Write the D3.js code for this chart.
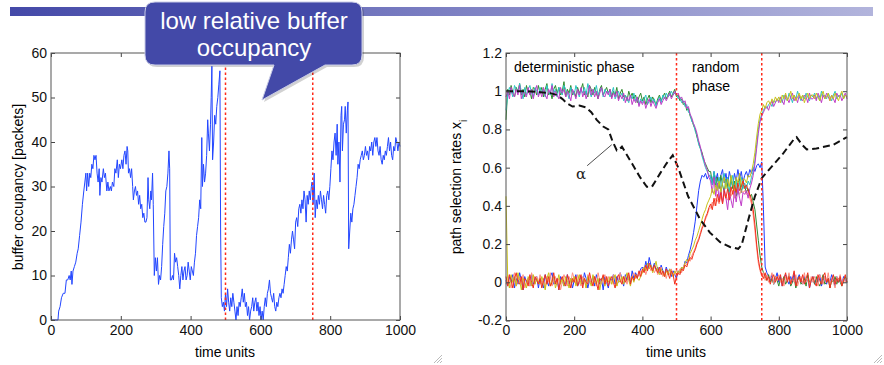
<!DOCTYPE html>
<html>
<head>
<meta charset="utf-8">
<script src="https://cdn.jsdelivr.net/npm/d3@7"></script>
<style>
  html, body { margin: 0; padding: 0; background: #fff; }
  svg { display: block; font-family: "Liberation Sans", Arial, Helvetica, sans-serif; }
</style>
</head>
<body>
<svg id="chart" width="884" height="365"></svg>
<script>
// ---------- data ----------
const xTicks = [0, 200, 400, 600, 800, 1000];
const bufferTicks = [0, 10, 20, 30, 40, 50, 60];
const rateTicks = [-0.2, 0, 0.2, 0.4, 0.6, 0.8, 1, 1.2];
const phaseBounds = [500, 750];

// buffer occupancy [packets] (left panel)
const bufferTime = [0,20,22,26,30,35,40,44,48,52,55,58,60,63,67,71,75,78,82,86,90,94,97,100,102,105,108,111,114,117,120,123,126,129,132,135,138,140,143,146,150,153,156,160,163,166,170,173,176,180,183,186,190,193,196,199,203,206,209,212,215,218,220,222,225,228,231,234,236,239,242,245,248,251,254,257,260,263,266,269,272,275,278,280,283,286,288,291,293,296,299,302,305,308,311,314,317,320,323,326,329,332,335,338,340,342,345,348,351,354,357,360,363,366,369,372,375,378,381,384,387,390,393,396,399,402,405,408,411,414,417,420,423,426,429,432,434,437,440,443,446,449,451,454,457,459,461,463,466,469,472,475,478,481,484,486,488,491,494,497,500,503,506,509,512,515,518,521,524,527,530,533,536,539,542,545,548,551,554,557,560,563,566,569,572,575,578,581,584,587,590,593,596,599,602,605,608,611,614,617,620,623,626,629,632,635,638,641,644,647,650,653,656,659,662,665,668,671,674,677,680,683,686,689,692,695,698,701,704,707,710,713,716,719,722,725,728,731,734,737,740,743,746,748,751,754,757,760,763,766,769,772,775,778,781,784,787,790,793,796,799,802,805,808,811,814,817,820,822,825,828,831,833,835,838,841,843,846,849,851,853,856,859,862,865,868,871,874,877,880,883,886,889,892,895,898,901,904,907,910,913,916,919,922,925,928,931,934,937,940,943,946,949,952,955,958,961,964,967,970,973,976,979,982,985,988,991,994,997,1000];
const bufferValue = [0,0,2,3,5,6,6,9,9,10,9,11,8,11,12,13,15,16,19,22,26,29,31,33,29,33,30,33,32,35,34,37,36,37,33,31,34,28,32,31,34,32,33,29,31,29,30,29,31,30,34,33,36,32,35,34,36,34,37,38,35,39,38,33,34,32,34,30,27,29,30,28,29,26,28,25,26,23,24,22,22,23,32,27,25,29,27,33,26,10,14,11,14,8,10,9,12,17,21,24,29,30,33,38,34,9,9,10,9,15,13,14,12,10,7,10,12,9,11,12,9,10,13,11,9,12,11,10,13,15,19,21,23,27,25,41,30,35,31,33,37,45,42,38,44,50,57,36,40,46,44,48,50,53,56,20,5,3,4,2,6,3,7,4,2,5,3,6,4,2,0,3,1,4,3,5,7,4,6,3,4,1,3,0,2,3,5,2,4,5,2,4,1,3,0,2,0,3,5,3,6,7,9,6,5,4,6,3,2,4,3,5,6,5,7,6,8,10,12,11,14,17,15,18,20,18,16,22,23,21,25,26,24,27,25,29,27,22,28,26,29,27,30,31,26,33,23,27,25,28,26,29,27,25,28,26,24,28,29,27,30,34,38,36,40,42,37,44,35,40,31,46,48,38,44,45,48,42,47,49,16,20,24,22,25,26,28,30,32,35,34,36,37,38,36,37,39,37,38,36,39,38,40,37,40,41,39,41,38,37,39,36,35,37,36,38,37,39,41,38,40,37,36,39,38,41,40,38,40,39];

// mixing parameter alpha (dashed curve, right panel)
const alphaTime = [0,60,100,130,150,165,180,195,215,235,250,266,285,300,312,325,332,340,355,370,393,413,428,452,470,489,505,534,569,598,628,657,681,691,711,730,750,784,813,847,852,868,882,910,960,1000];
const alphaValue = [1.0,1.0,0.995,0.99,0.98,0.96,0.935,0.92,0.925,0.915,0.89,0.85,0.815,0.8,0.74,0.69,0.695,0.71,0.665,0.62,0.55,0.5,0.5,0.57,0.62,0.665,0.6,0.45,0.33,0.26,0.21,0.185,0.175,0.195,0.33,0.45,0.545,0.615,0.675,0.755,0.76,0.72,0.695,0.7,0.72,0.76];

// path selection rates x_i, one sample every 5 time units, in percent
const sampleStep = 5;
const rateBlue = [1,-2,3,0,4,-3,2,-1,5,1,-4,3,0,2,-2,4,-1,1,3,-3,
2,0,-3,4,1,-2,3,5,-1,0,2,-4,3,1,-2,0,4,-1,2,-3,
1,4,-2,0,3,-1,5,2,-3,1,0,3,-2,4,1,-1,2,-4,3,0,
-3,2,1,4,-1,3,0,5,2,-2,4,1,3,0,6,2,5,3,4,7,
8,6,11,7,13,9,7,10,6,8,5,9,6,4,8,5,7,3,6,4,
2,6,5,8,7,11,10,14,17,21,26,32,40,48,53,56,55,57,54,56,
55,51,58,53,57,50,56,59,52,57,51,58,54,50,57,53,59,54,58,52,
56,58,55,59,57,60,58,61,62,60,63,38,8,5,3,1,4,-1,2,5,
0,3,-2,2,4,1,-1,3,0,5,-2,2,4,1,-1,3,0,2,-3,1,
3,-1,2,0,4,-2,1,3,-1,2,0,4,1,-2,3,0,2,-1,3,1,0];
const rateGreen = [85,101,98,103,99,97,102,100,104,98,101,97,103,99,100,96,102,101,98,103,
99,102,97,101,104,98,100,96,101,103,99,102,98,100,105,97,101,99,103,98,
100,97,102,99,101,104,98,100,97,103,101,98,102,99,96,101,103,98,100,102,
99,101,97,100,98,102,96,99,101,97,98,95,100,97,99,96,98,94,97,99,
95,97,93,96,98,94,97,95,93,96,98,95,97,99,96,98,100,97,99,101,
97,98,95,96,93,94,90,91,87,85,82,80,76,73,70,68,64,62,60,58,
58,52,57,50,55,49,56,51,47,54,50,46,55,49,53,45,52,54,47,51,
50,47,49,45,46,42,38,30,22,14,8,5,3,1,4,0,2,-1,3,1,
-2,2,0,3,-1,1,4,-2,0,2,-3,1,3,-1,0,2,-2,4,0,1,
2,-1,3,0,-2,1,4,-1,0,2,-3,1,0,3,-1,2,0,-2,1,3,0];
const rateCyan = [90,98,102,100,97,103,101,99,104,100,96,102,98,101,103,99,97,102,100,98,
102,99,101,97,103,100,98,104,99,101,97,102,100,98,103,101,99,96,102,100,
98,103,100,97,101,99,102,98,104,100,97,101,99,103,98,100,102,97,101,99,
100,97,99,102,96,98,100,97,99,95,98,96,94,98,96,99,95,97,93,96,
94,96,98,93,95,97,94,96,92,95,97,94,98,96,99,97,98,100,98,99,
98,96,97,94,95,92,93,89,88,84,83,79,77,72,70,66,63,60,58,56,
56,51,58,53,49,55,48,54,57,50,55,47,52,56,48,53,46,52,55,49,
52,49,53,51,55,58,64,72,80,85,88,90,92,91,93,94,92,95,94,96,
95,97,94,98,96,95,99,97,94,98,96,100,97,95,98,96,99,97,95,98,
97,99,96,98,95,100,97,98,96,99,97,95,98,100,96,98,97,99,96,98,97];
const rateSalmon = [-1,4,0,-3,2,5,-2,1,3,-1,4,-3,0,2,-2,5,1,-1,3,0,
4,-1,2,-3,3,0,5,-2,1,3,-1,2,-4,0,4,1,-2,3,0,5,
2,-1,4,0,-2,3,1,-3,4,2,-1,0,3,-2,5,1,-1,2,4,0,
3,0,-1,4,2,-2,1,5,0,3,2,-1,4,1,3,5,2,4,3,6,
5,8,4,7,9,6,8,5,7,4,6,8,3,5,2,6,4,7,3,5,
6,4,7,5,8,10,9,12,11,14,16,18,21,23,26,29,31,33,35,38,
39,42,40,44,43,41,45,42,46,44,43,47,45,48,44,47,49,46,48,47,
48,46,47,44,41,35,27,18,10,6,3,5,1,4,0,2,5,-1,3,1,
4,0,2,-2,3,1,5,-1,2,0,4,-2,1,3,-1,5,0,2,-2,3,
0,3,1,-2,4,2,-1,3,0,5,-1,2,0,-3,3,1,4,-1,2,0,2];
const rateMagenta = [97,100,96,102,99,97,101,98,103,96,100,99,97,102,98,101,96,100,103,97,
100,97,102,98,96,101,99,103,97,100,98,96,102,99,101,97,100,98,95,101,
99,96,101,98,102,97,100,96,99,103,98,101,97,100,96,99,102,98,97,100,
98,101,96,99,97,100,95,98,96,99,94,97,95,98,93,96,94,97,92,95,
93,95,91,94,96,92,95,93,91,94,96,93,95,97,95,97,99,96,98,100,
98,99,96,97,94,95,91,92,88,86,83,81,78,74,71,67,65,61,59,55,
53,47,55,45,52,43,50,41,49,44,38,47,43,39,48,42,49,44,40,47,
46,48,44,49,52,56,62,70,78,84,87,89,91,92,90,93,95,92,94,96,
94,97,95,93,98,96,94,97,99,95,97,94,98,96,95,98,97,94,99,96,
96,98,95,99,97,94,98,96,99,97,95,98,96,94,99,97,98,95,97,99,96];
const rateYellow = [45,2,-3,4,0,3,-2,5,1,-4,2,0,-3,3,1,-2,4,-1,2,0,
-1,3,0,-4,2,5,-2,1,3,-3,0,4,-1,2,-2,3,1,-3,2,0,
3,-2,1,4,-1,0,2,-3,3,1,-2,4,0,-1,2,-4,1,3,-2,2,
0,3,-1,2,4,-2,1,0,3,-1,2,5,1,-2,3,0,4,2,1,3,
5,8,6,10,7,9,5,8,11,6,4,7,5,3,6,4,7,5,3,6,
4,6,5,8,7,10,12,11,15,17,19,22,24,27,30,33,36,38,41,43,
45,49,46,51,48,53,47,52,55,49,54,50,56,51,48,55,52,57,50,54,
54,52,56,55,58,62,68,76,83,88,90,93,91,94,95,93,96,94,97,95,
97,94,98,96,99,95,97,100,96,98,95,97,99,96,98,94,97,99,96,98,
98,96,99,97,95,98,100,96,97,99,95,98,96,99,97,95,98,100,96,98,97];
const rateRed = [3,-2,4,1,-3,2,5,0,-1,3,-4,2,1,-2,4,0,-3,3,1,-1,
2,-3,1,4,-1,3,-2,0,5,-1,2,-4,1,3,0,-2,4,1,-3,2,
0,3,-2,1,4,-3,2,0,-1,5,1,-2,3,0,-4,2,1,4,-1,3,
-2,1,3,0,-3,2,4,1,-1,3,0,2,5,-1,3,1,4,2,6,3,
7,5,9,6,10,8,6,9,7,5,8,4,6,3,7,5,2,6,4,-1,
3,5,4,7,6,9,8,11,13,12,15,17,20,22,25,28,30,34,36,39,
41,38,44,40,46,42,47,41,48,44,49,43,50,46,51,47,52,48,50,53,
49,51,48,46,43,38,30,20,12,7,4,2,5,1,3,-1,2,4,0,3,
1,4,-2,2,5,0,3,-1,2,6,-2,1,3,0,4,-1,2,5,-3,1,
3,0,-2,4,1,-1,3,5,0,2,-3,1,4,-1,2,0,3,-2,1,4,0];

const rateSeries = [
  { values: rateBlue, color: "#1f3cff" },
  { values: rateGreen, color: "#2e8b2e" },
  { values: rateCyan, color: "#2cc4c4" },
  { values: rateSalmon, color: "#ff8f80" },
  { values: rateMagenta, color: "#c03cc8" },
  { values: rateYellow, color: "#c9c21a" },
  { values: rateRed, color: "#f2301c" }
];

// ---------- drawing ----------
const svg = d3.select("#chart");
const tickFont = 14;

// title bar gradient
const defs = svg.append("defs");
const grad = defs.append("linearGradient").attr("id", "barGrad");
grad.append("stop").attr("offset", "0%").attr("stop-color", "#4449a8");
grad.append("stop").attr("offset", "100%").attr("stop-color", "#b2b4dc");
svg.append("rect").attr("x", 10).attr("y", 7).attr("width", 863).attr("height", 9).attr("fill", "url(#barGrad)");

function drawFrame(g, x, y, yTicks, yFmt) {
  const [x0, x1] = x.range();
  const [y0, y1] = y.range();
  const styleAxis = sel => {
    sel.select(".domain").remove();
    sel.attr("color", "#444").attr("font-size", null).attr("font-family", null);
    sel.selectAll("text").attr("fill", "#111").style("font-size", tickFont + "px");
  };
  g.append("g").attr("transform", `translate(0,${y0})`)
    .call(d3.axisBottom(x).tickValues(xTicks).tickSizeInner(-4).tickSizeOuter(0).tickPadding(5).tickFormat(d3.format("d")))
    .call(styleAxis);
  g.append("g").attr("transform", `translate(0,${y1})`)
    .call(d3.axisTop(x).tickValues(xTicks).tickSizeInner(-4).tickSizeOuter(0).tickFormat(""))
    .call(styleAxis);
  g.append("g").attr("transform", `translate(${x0},0)`)
    .call(d3.axisLeft(y).tickValues(yTicks).tickSizeInner(-4).tickSizeOuter(0).tickPadding(4).tickFormat(yFmt))
    .call(styleAxis);
  g.append("g").attr("transform", `translate(${x1},0)`)
    .call(d3.axisRight(y).tickValues(yTicks).tickSizeInner(-4).tickSizeOuter(0).tickFormat(""))
    .call(styleAxis);
  g.append("rect").attr("x", x0).attr("y", y1).attr("width", x1 - x0).attr("height", y0 - y1)
    .attr("fill", "none").attr("stroke", "#555").attr("stroke-width", 1);
}

function phaseLines(g, x, y) {
  const [y0, y1] = y.range();
  g.selectAll("line.phase").data(phaseBounds).join("line")
    .attr("class", "phase")
    .attr("x1", d => x(d)).attr("x2", d => x(d))
    .attr("y1", y0).attr("y2", y1)
    .attr("stroke", "#ff2a1a").attr("stroke-width", 1.5).attr("stroke-dasharray", "2.5,2.5");
}

// ----- left panel: buffer occupancy -----
const xL = d3.scaleLinear().domain([0, 1000]).range([51, 400]);
const yL = d3.scaleLinear().domain([0, 60]).range([320, 53]);
const left = svg.append("g");

left.append("path")
  .datum(d3.range(bufferTime.length))
  .attr("fill", "none").attr("stroke", "#2246ff").attr("stroke-width", 1)
  .attr("d", d3.line().x(i => xL(bufferTime[i])).y(i => yL(bufferValue[i])));
phaseLines(left, xL, yL);
drawFrame(left, xL, yL, bufferTicks, d3.format("d"));

left.append("text").attr("x", 225).attr("y", 357).attr("text-anchor", "middle")
  .style("font-size", "14px").text("time units");
left.append("text").attr("transform", "translate(23,187) rotate(-90)").attr("text-anchor", "middle")
  .style("font-size", "14px").text("buffer occupancy [packets]");

// ----- right panel: path selection rates -----
const xR = d3.scaleLinear().domain([0, 1000]).range([506, 847]);
const yR = d3.scaleLinear().domain([-0.2, 1.2]).range([320.5, 53]);
const right = svg.append("g");

const rateLine = d3.line().x((v, i) => xR(i * sampleStep)).y(v => yR(v / 100));
right.selectAll("path.rate").data(rateSeries).join("path")
  .attr("class", "rate")
  .attr("fill", "none").attr("stroke", d => d.color).attr("stroke-width", 1)
  .attr("d", d => rateLine(d.values));

right.append("path")
  .datum(d3.range(alphaTime.length))
  .attr("fill", "none").attr("stroke", "#111").attr("stroke-width", 2)
  .attr("stroke-dasharray", "7,4")
  .attr("d", d3.line().x(i => xR(alphaTime[i])).y(i => yR(alphaValue[i])));

phaseLines(right, xR, yR);
drawFrame(right, xR, yR, rateTicks, d => String(+d.toFixed(1)));

right.append("text").attr("x", 676).attr("y", 357).attr("text-anchor", "middle")
  .style("font-size", "14px").text("time units");
const yTitle = right.append("text").attr("transform", "translate(461,187) rotate(-90)")
  .attr("text-anchor", "middle").style("font-size", "14px");
yTitle.append("tspan").text("path selection rates x");
yTitle.append("tspan").attr("baseline-shift", "sub").style("font-size", "10px").text("i");

right.append("text").attr("x", 514).attr("y", 72).style("font-size", "14px").text("deterministic phase");
right.append("text").attr("x", 692).attr("y", 72).style("font-size", "14px").text("random");
right.append("text").attr("x", 692).attr("y", 91).style("font-size", "14px").text("phase");

// alpha annotation
right.append("line").attr("x1", xR(238)).attr("y1", yR(0.61)).attr("x2", xR(310)).attr("y2", yR(0.72))
  .attr("stroke", "#222").attr("stroke-width", 0.8);
right.append("text").attr("x", xR(220)).attr("y", yR(0.54)).attr("text-anchor", "middle")
  .style("font-family", "'DejaVu Serif', serif").style("font-size", "15px").attr("fill", "#222").text("α");

// resize grips
[[442, 363], [882, 363]].forEach(([gx, gy]) => {
  [8, 5, 2].forEach(s => {
    svg.append("line").attr("x1", gx - s).attr("y1", gy).attr("x2", gx).attr("y2", gy - s)
      .attr("stroke", "#bbb").attr("stroke-width", 1);
  });
});

// ----- callout -----
const callout = svg.append("g");
const cx0 = 145, cx1 = 362, cy0 = 2, cy1 = 65, r = 10;
const calloutPath = `M${cx0 + r},${cy0} H${cx1 - r} Q${cx1},${cy0} ${cx1},${cy0 + r} V${cy1 - r} Q${cx1},${cy1} ${cx1 - r},${cy1}
  H325 L262,100 L274,${cy1} H${cx0 + r} Q${cx0},${cy1} ${cx0},${cy1 - r} V${cy0 + r} Q${cx0},${cy0} ${cx0 + r},${cy0} Z`;
callout.append("path").attr("d", calloutPath).attr("transform", "translate(2,2)")
  .attr("fill", "rgba(0,0,0,0.18)");
callout.append("path").attr("d", calloutPath)
  .attr("fill", "#4349a8").attr("stroke", "#c8cbe6").attr("stroke-width", 1);
callout.append("text").attr("x", 254).attr("y", 29).attr("text-anchor", "middle")
  .attr("fill", "#fff").style("font-size", "24px").text("low relative buffer");
callout.append("text").attr("x", 254).attr("y", 56).attr("text-anchor", "middle")
  .attr("fill", "#fff").style("font-size", "24px").text("occupancy");
</script>
</body>
</html>
